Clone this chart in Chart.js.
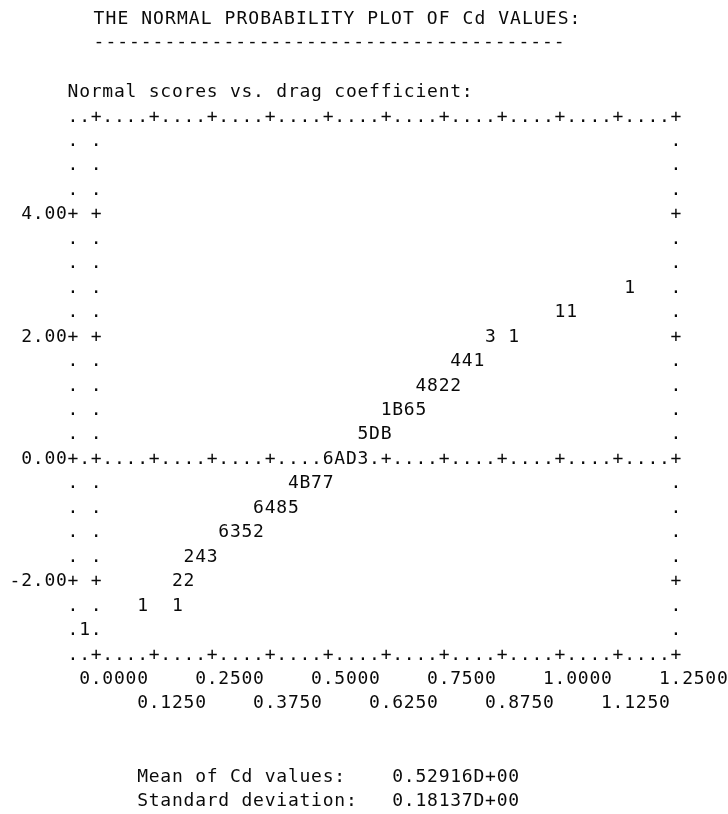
<!DOCTYPE html>
<html>
<head>
<meta charset="utf-8">
<script src="https://cdn.jsdelivr.net/npm/chart.js@4.4.1/dist/chart.umd.min.js"></script>
<style>
  html, body { margin: 0; padding: 0; background: #ffffff; }
  canvas { display: block; }
</style>
</head>
<body>
<canvas id="plot" width="728" height="814"></canvas>
<script>
// Line-printer style normal probability plot of drag coefficient (Cd) values.
// Each printed symbol is the number of observations in a print cell:
// 1-9, then A = 10, B = 11, C = 12, D = 13 ...

// Print-cell centres (drag coefficient, normal score) and their counts
const cdBins = [
  1.150,
  1.000, 1.025,
  0.850, 0.900,
  0.775, 0.800, 0.825,
  0.700, 0.725, 0.750, 0.775,
  0.625, 0.650, 0.675, 0.700,
  0.575, 0.600, 0.625,
  0.500, 0.525, 0.550, 0.575,
  0.425, 0.450, 0.475, 0.500,
  0.350, 0.375, 0.400, 0.425,
  0.275, 0.300, 0.325, 0.350,
  0.200, 0.225, 0.250,
  0.175, 0.200,
  0.100, 0.175,
  -0.025
];
const normalScores = [
  2.8,
  2.4, 2.4,
  2.0, 2.0,
  1.6, 1.6, 1.6,
  1.2, 1.2, 1.2, 1.2,
  0.8, 0.8, 0.8, 0.8,
  0.4, 0.4, 0.4,
  0.0, 0.0, 0.0, 0.0,
  -0.4, -0.4, -0.4, -0.4,
  -0.8, -0.8, -0.8, -0.8,
  -1.2, -1.2, -1.2, -1.2,
  -1.6, -1.6, -1.6,
  -2.0, -2.0,
  -2.4, -2.4,
  -2.8
];
const cellCounts = [
  1,
  1, 1,
  3, 1,
  4, 4, 1,
  4, 8, 2, 2,
  1, 11, 6, 5,
  5, 13, 11,
  6, 10, 13, 3,
  4, 11, 7, 7,
  6, 4, 8, 5,
  6, 3, 5, 2,
  2, 4, 3,
  2, 2,
  1, 1,
  1
];

const xTickValues = [0, 0.125, 0.25, 0.375, 0.5, 0.625, 0.75, 0.875, 1.0, 1.125, 1.25];
const xTickLabels = ['0.0000', '0.1250', '0.2500', '0.3750', '0.5000', '0.6250',
                     '0.7500', '0.8750', '1.0000', '1.1250', '1.2500'];
const yTickValues = [4, 2, 0, -2];
const yTickLabels = ['4.00', '2.00', '0.00', '-2.00'];

const titleText = 'THE NORMAL PROBABILITY PLOT OF Cd VALUES:';
const plotCaption = 'Normal scores vs. drag coefficient:';
const statNames = ['Mean of Cd values:', 'Standard deviation:'];
const statValues = ['0.52916D+00', '0.18137D+00'];

// Print grid: one column is 0.025 of Cd, one line is 0.4 of normal score
const X_MIN = -0.05, X_MAX = 1.25, X_STEP = 0.025;
const Y_MIN = -3.2, Y_MAX = 5.6, Y_STEP = 0.4;

const FONT = '18px "DejaVu Sans Mono", monospace';
const INK = '#0a0a0a';
const BASE_DROP = 6.5;   // baseline offset below a cell's centre

function symbolFor(n) {
  return n < 10 ? String(n) : String.fromCharCode(55 + n);
}

const printerPlot = {
  id: 'printerPlot',
  beforeDatasetsDraw(chart) {
    const ctx = chart.ctx;
    const xs = chart.scales.x, ys = chart.scales.y;
    const colX = c => xs.getPixelForValue(X_MIN + c * X_STEP);
    const rowY = r => ys.getPixelForValue(Y_MAX - r * Y_STEP);
    const nCols = Math.round((X_MAX - X_MIN) / X_STEP);
    const nRows = Math.round((Y_MAX - Y_MIN) / Y_STEP);
    const zeroRow = Math.round(Y_MAX / Y_STEP);
    const zeroCol = Math.round(-X_MIN / X_STEP);
    const near = (a, b) => Math.abs(a - b) < 1e-6;
    const isXTick = v => xTickValues.some(t => near(t, v));
    const isYTick = v => yTickValues.some(t => near(t, v));

    const taken = new Set();
    cdBins.forEach((x, i) => {
      const c = Math.round((x - X_MIN) / X_STEP);
      const r = Math.round((Y_MAX - normalScores[i]) / Y_STEP);
      taken.add(r + ':' + c);
    });

    ctx.save();
    ctx.font = FONT;
    ctx.fillStyle = INK;
    ctx.textAlign = 'center';
    ctx.textBaseline = 'alphabetic';

    const put = (ch, x, y) => { if (ch !== ' ') ctx.fillText(ch, x, y + BASE_DROP); };
    const run = (text, col, row) => {
      for (let i = 0; i < text.length; i++) put(text[i], colX(col + i), rowY(row));
    };

    // frame: top, zero and bottom lines, axis column and side borders
    for (let r = 0; r <= nRows; r++) {
      for (let c = 0; c <= nCols; c++) {
        const onH = r === 0 || r === nRows || r === zeroRow;
        const onV = c === 0 || c === zeroCol || c === nCols;
        if (!onH && !onV) continue;
        if (taken.has(r + ':' + c)) continue;
        const xv = X_MIN + c * X_STEP, yv = Y_MAX - r * Y_STEP;
        let ch = '.';
        if (onV && isYTick(yv)) ch = '+';
        if (onH && isXTick(xv)) ch = '+';
        put(ch, colX(c), rowY(r));
      }
    }

    // normal score labels, ending just left of the axis column
    yTickValues.forEach((v, i) => {
      const r = Math.round((Y_MAX - v) / Y_STEP);
      const txt = yTickLabels[i];
      run(txt, -txt.length, r);
    });

    // Cd labels on two staggered lines
    xTickValues.forEach((v, i) => {
      const c = Math.round((v - X_MIN) / X_STEP);
      run(xTickLabels[i], c - 1, nRows + 1 + (i % 2));
    });

    // caption above the frame
    run(plotCaption, 0, -1);

    // summary statistics
    statNames.forEach((name, i) => {
      run(name, 6, nRows + 5 + i);
      run(statValues[i], 28, nRows + 5 + i);
    });

    // heading and underline
    const left = chart.chartArea.left;
    for (let i = 0; i < titleText.length; i++) {
      if (titleText[i] !== ' ') ctx.fillText(titleText[i], left + 26 + i * 11.9, 24);
    }
    for (let i = 0; i < 40; i++) ctx.fillText('-', left + 26 + i * 11.8, 47);

    ctx.restore();
  },
  afterDatasetsDraw(chart) {
    const ctx = chart.ctx;
    const meta = chart.getDatasetMeta(0);
    ctx.save();
    ctx.font = FONT;
    ctx.fillStyle = INK;
    ctx.textAlign = 'center';
    ctx.textBaseline = 'alphabetic';
    meta.data.forEach((pt, i) => {
      ctx.fillText(symbolFor(cellCounts[i]), pt.x, pt.y + BASE_DROP);
    });
    ctx.restore();
  }
};

new Chart(document.getElementById('plot'), {
  type: 'scatter',
  data: {
    datasets: [{
      label: 'Cd cells',
      data: cdBins.map((x, i) => ({ x: x, y: normalScores[i] })),
      pointRadius: 0,
      pointHoverRadius: 0,
      showLine: false
    }]
  },
  options: {
    responsive: false,
    devicePixelRatio: 1,
    animation: false,
    events: [],
    layout: { padding: { left: 73, right: 52, top: 115, bottom: 161 } },
    plugins: { legend: { display: false }, tooltip: { enabled: false } },
    scales: {
      x: { type: 'linear', min: X_MIN, max: X_MAX, display: false },
      y: { type: 'linear', min: Y_MIN, max: Y_MAX, display: false }
    }
  },
  plugins: [printerPlot]
});
</script>
</body>
</html>
